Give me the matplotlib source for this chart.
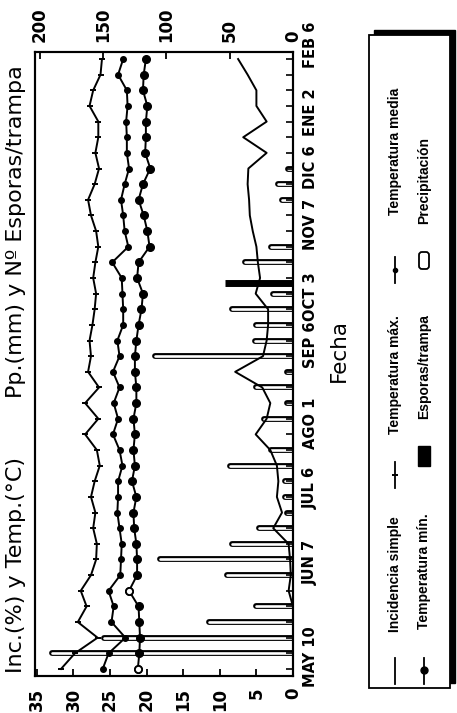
import numpy as np
import matplotlib
matplotlib.use("Agg")
import matplotlib.pyplot as plt
import matplotlib.transforms as mtransforms
from matplotlib.patches import Rectangle, FancyBboxPatch

W, H = 457, 713

# weekly samples from MAY 10 to FEB 6 (index 0 = first sample)
weeks = np.arange(40)
incidence = [0, 0, 0, 0, 0, 0.6, 0.3, 0.4, 0.6, 2.7,
             1.5, 2.2, 2.0, 2.2, 3.1, 5.1, 3.6, 3.1, 4.2, 7.9,
             4.1, 3.6, 3.4, 3.4, 5.1, 4.5, 4.8, 5.0, 5.5, 5.9,
             6.0, 6.2, 6.1, 3.6, 6.8, 3.6, 5.0, 5.0, 6.2, 7.5]
t_max = [31.7, 29.8, 26.7, 29.4, 28.2, 29.0, 27.6, 26.9, 26.8, 27.3,
         27.0, 27.6, 27.1, 26.4, 26.8, 28.4, 26.6, 28.4, 26.5, 28.0,
         27.6, 27.8, 27.4, 27.1, 26.9, 27.3, 27.0, 26.6, 26.9, 27.6,
         28.0, 27.1, 26.5, 27.0, 26.6, 26.6, 27.8, 27.3, 26.3, 26.1]
t_med = [26.0, 25.2, 22.9, 24.8, 24.5, 25.2, 23.6, 23.5, 23.4, 23.7,
         24.0, 23.9, 23.9, 23.3, 23.7, 24.6, 23.9, 24.5, 23.7, 24.6,
         23.7, 24.0, 23.2, 23.2, 23.3, 23.4, 24.7, 22.5, 23.0, 23.2,
         23.5, 23.0, 22.4, 22.7, 22.7, 22.8, 22.6, 22.7, 23.9, 23.2]
t_min = [21.2, 21.0, 20.9, 21.0, 21.1, 22.4, 21.3, 21.3, 21.4, 21.7,
         21.8, 21.4, 22.0, 21.6, 21.8, 21.6, 21.8, 21.4, 21.4, 21.6,
         21.6, 21.4, 21.1, 20.7, 20.5, 21.3, 21.1, 19.6, 19.9, 20.4,
         21.1, 20.5, 19.5, 20.2, 20.1, 20.1, 19.9, 20.5, 20.4, 20.1]
t_min_open = [0, 5]  # samples drawn with open markers

pp_week = [1, 2, 3, 4, 6, 7, 8, 9, 10, 11, 12, 13, 14, 16, 17, 18, 19,
           20, 21, 22, 23, 24, 26, 27, 30, 31, 32]
pp_mm = [190, 149, 66, 29, 52, 105, 48, 27, 5, 6, 6, 50, 17, 23, 5, 29, 5,
         109, 30, 29, 48, 15.5, 38, 17, 9, 12, 4]
spore_week = [24.7]
spore_n = [54]

date_labels = ["MAY 10", "JUN 7", "JUL 6", "AGO 1", "SEP 6", "OCT 3",
               "NOV 7", "DIC 6", "ENE 2", "FEB 6"]
date_pos = [0.77, 6.8, 11.6, 15.7, 20.7, 23.8, 28.4, 32.1, 35.6, 39.9]
temp_ticks = [0, 5, 10, 15, 20, 25, 30, 35]
pp_ticks = [0, 50, 100, 150, 200]

plt.rcParams["font.family"] = ["DejaVu Sans"]
fig = plt.figure(figsize=(W / 100, H / 100), dpi=100)
fig.patch.set_facecolor("white")

ax = fig.add_axes([35 / W, 1 - 676 / H, 258 / W, 624 / H])
ax2 = ax.twiny()
ax.set_zorder(ax2.get_zorder() + 1)
ax.patch.set_visible(False)

# precipitation / spores (top scale)
ax2.hlines(pp_week, 0, pp_mm, colors="black", lw=4.2, capstyle="round", zorder=1)
ax2.hlines(pp_week, 0, pp_mm, colors="white", lw=1.9, capstyle="round", zorder=2)
ax2.hlines(spore_week, 0, spore_n, colors="black", lw=5, zorder=3)
ax2.set_xlim(203.8, 0)
ax2.set_xticks(pp_ticks)
ax2.tick_params(axis="x", direction="in", length=5, width=1.3, pad=7,
                labelrotation=90, labelsize=12)
for t in ax2.get_xticklabels():
    t.set_fontweight("bold")

# incidence and temperatures (bottom scale)
lw = 1.4
ax.plot(incidence, weeks, color="black", lw=lw, zorder=3)
ax.plot(t_max, weeks, color="black", lw=lw, marker="_", ms=5, mew=1.4, zorder=3)
ax.plot(t_med, weeks, color="black", lw=lw, marker="o", ms=4, zorder=3)
ax.plot(t_min, weeks, color="black", lw=lw, marker="o", ms=5.5, zorder=3)
ax.plot([t_min[i] for i in t_min_open], [weeks[i] for i in t_min_open], ls="none",
        marker="o", ms=5, mfc="white", mec="black", mew=1.2, zorder=4)

ax.set_xlim(35.25, 0)
ax.set_ylim(-0.45, 39.45)
ax.set_xticks(temp_ticks)
ax.tick_params(axis="x", direction="in", length=5, width=1.3, pad=8.5,
               labelrotation=90, labelsize=12)
for t in ax.get_xticklabels():
    t.set_fontweight("bold")
ax.set_yticks([])
ax.set_yticks(weeks, minor=True)
ax.yaxis.set_ticks_position("right")
ax.tick_params(axis="y", which="minor", direction="in", length=5, width=1.2,
               right=True, left=False)
for a in (ax, ax2):
    for s in a.spines.values():
        s.set_linewidth(1.5)

trans = mtransforms.blended_transform_factory(ax.transAxes, ax.transData)
for lab, pos in zip(date_labels, date_pos):
    ax.text(1.066, pos, lab, transform=trans, rotation=90, ha="center", va="center",
            fontsize=10.5, fontweight="bold", clip_on=False)

# texts and legend in pixel coordinates
ov = fig.add_axes([0, 0, 1, 1])
ov.set_xlim(0, W)
ov.set_ylim(H, 0)
ov.set_axis_off()

ov.text(16, 565, "Inc.(%) y Temp.(°C)", rotation=90, ha="center", va="center", fontsize=16)
ov.text(16, 232, "Pp.(mm) y Nº Esporas/trampa", rotation=90, ha="center", va="center",
        fontsize=16)
ov.text(339, 350, "Fecha", rotation=90, ha="center", va="center", fontsize=15.5)

ov.add_patch(Rectangle((374, 30), 81, 653, facecolor="black", edgecolor="black"))
ov.add_patch(Rectangle((369, 35), 81, 653, facecolor="white", edgecolor="black", lw=1.3))

lf = dict(rotation=90, ha="center", va="center", fontsize=10, fontweight="bold",
          family="Liberation Sans")
x1, x2 = 395, 424
ov.plot([x1, x1], [658, 684], color="black", lw=1.3)
ov.text(x1, 574, "Incidencia simple", **lf)
ov.plot([x1, x1], [462, 488], color="black", lw=1.3)
ov.plot([x1], [475], marker="_", ms=5, mew=1.4, color="black")
ov.text(x1, 375, "Temperatura máx.", **lf)
ov.plot([x1, x1], [257, 283], color="black", lw=1.3)
ov.plot([x1], [270], marker="o", ms=3, color="black")
ov.text(x1, 151, "Temperatura media", **lf)

ov.plot([x2, x2], [658, 684], color="black", lw=1.3)
ov.plot([x2], [670], marker="o", ms=5, color="black")
ov.text(x2, 571, "Temperatura mín.", **lf)
ov.add_patch(Rectangle((x2 - 6, 446), 12, 20, facecolor="black", edgecolor="black"))
ov.text(x2, 367, "Esporas/trampa", **lf)
ov.add_patch(FancyBboxPatch((x2 - 5, 252), 10, 17, boxstyle="round,pad=0,rounding_size=3",
                            facecolor="white", edgecolor="black", lw=1.3))
ov.text(x2, 181, "Precipitación", **lf)

fig.savefig("out.png", dpi=100, facecolor="white")
